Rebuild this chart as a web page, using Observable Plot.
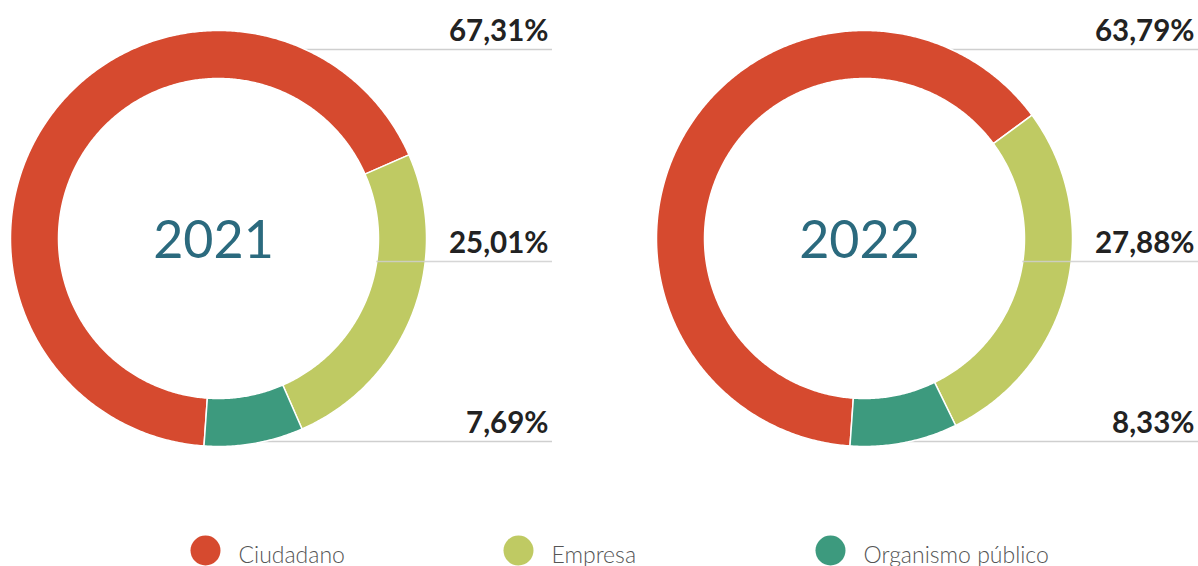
<!DOCTYPE html>
<html><head><meta charset="utf-8">
<script src="https://cdn.jsdelivr.net/npm/d3@7"></script>
<script src="https://cdn.jsdelivr.net/npm/@observablehq/plot@0.6"></script>
<style>body{margin:0;background:#fff;font-family:Lato,sans-serif}</style>
</head><body><div id="chart"></div>
<script>
// ---- data ----
const years = ["2021", "2022"];
const categories = ["Ciudadano", "Empresa", "Organismo público"];
const colors = ["#d64a2f", "#bfca63", "#3d9a7e"];
const share2021 = [67.31, 25.01, 7.69];
const share2022 = [63.79, 27.88, 8.33];
const shares = [share2021, share2022];

// ---- layout ----
const W = 1198, H = 566;
const centers = [{cx: 218, cy: 238, right: 552}, {cx: 864, cy: 238, right: 1198}];
const RO = 208, RI = 160, START = 184;
const rowY = [49, 261, 441];
const legendDotX = [205, 518, 830];
const legendY = 550;

const toXY = (c, r, deg) => {
  const a = deg * Math.PI / 180;
  return [c.cx + r * Math.sin(a), c.cy - r * Math.cos(a)];
};

const arcPts = [];
years.forEach((yr, yi) => {
  const c = centers[yi];
  const total = d3.sum(shares[yi]);
  let a0 = START;
  shares[yi].forEach((v, ci) => {
    const span = v / total * 360, a1 = a0 + span;
    const n = Math.max(2, Math.ceil(span / 0.5));
    const key = yr + "-" + ci;
    for (let i = 0; i <= n; i++) {
      const [x, y] = toXY(c, RO, a0 + span * i / n);
      arcPts.push({key, category: categories[ci], x, y});
    }
    for (let i = n; i >= 0; i--) {
      const [x, y] = toXY(c, RI, a0 + span * i / n);
      arcPts.push({key, category: categories[ci], x, y});
    }
    a0 = a1;
  });
});

const rows = [];
years.forEach((yr, yi) => {
  const c = centers[yi];
  shares[yi].forEach((v, ci) => {
    const y = rowY[ci];
    const dy = y - c.cy;
    const over = Math.abs(dy) < RI;
    const x1 = over ? c.cx + Math.sqrt(RI * RI - dy * dy) : c.cx;
    rows.push({y, x1, x2: c.right, over, label: v.toFixed(2).replace(".", ",") + "%", lx: c.right - 4});
  });
});

const centerLabels = years.map((yr, yi) => ({x: centers[yi].cx - 5, y: 257, text: yr}));
const legend = categories.map((cat, i) => ({category: cat, x: legendDotX[i], y: legendY}));

const chart = Plot.plot({
  width: W, height: H,
  margin: 0,
  x: {domain: [0, W], axis: null},
  y: {domain: [0, H], reverse: true, axis: null},
  color: {domain: categories, range: colors},
  style: {fontFamily: "Lato, sans-serif", background: "#fff"},
  marks: [
    Plot.ruleY(rows.filter(d => !d.over), {y: "y", x1: "x1", x2: "x2", stroke: "#cfcfcf", strokeWidth: 1.5}),
    Plot.line(arcPts, {x: "x", y: "y", z: "key", fill: "category", stroke: "white", strokeWidth: 1.5, curve: "linear-closed"}),
    Plot.ruleY(rows.filter(d => d.over), {y: "y", x1: "x1", x2: "x2", stroke: "#cfcfcf", strokeWidth: 1.5, strokeOpacity: 0.85}),
    Plot.text(rows, {x: "lx", y: d => d.y - 9, text: "label", textAnchor: "end", lineAnchor: "bottom", fontSize: 29.5, fontWeight: 700, fill: "#222"}),
    Plot.text(centerLabels, {x: "x", y: "y", text: "text", lineAnchor: "bottom", fontSize: 52, fontWeight: 400, fill: "#2b6a7e"}),
    Plot.dot(legend, {x: "x", y: "y", r: 15, fill: "category"}),
    Plot.text(legend, {x: d => d.x + 33, y: d => d.y + 12, text: "category", textAnchor: "start", lineAnchor: "bottom", fontSize: 23, fontWeight: 300, fill: "#555"})
  ]
});
document.getElementById("chart").append(chart);
</script>
</body></html>
